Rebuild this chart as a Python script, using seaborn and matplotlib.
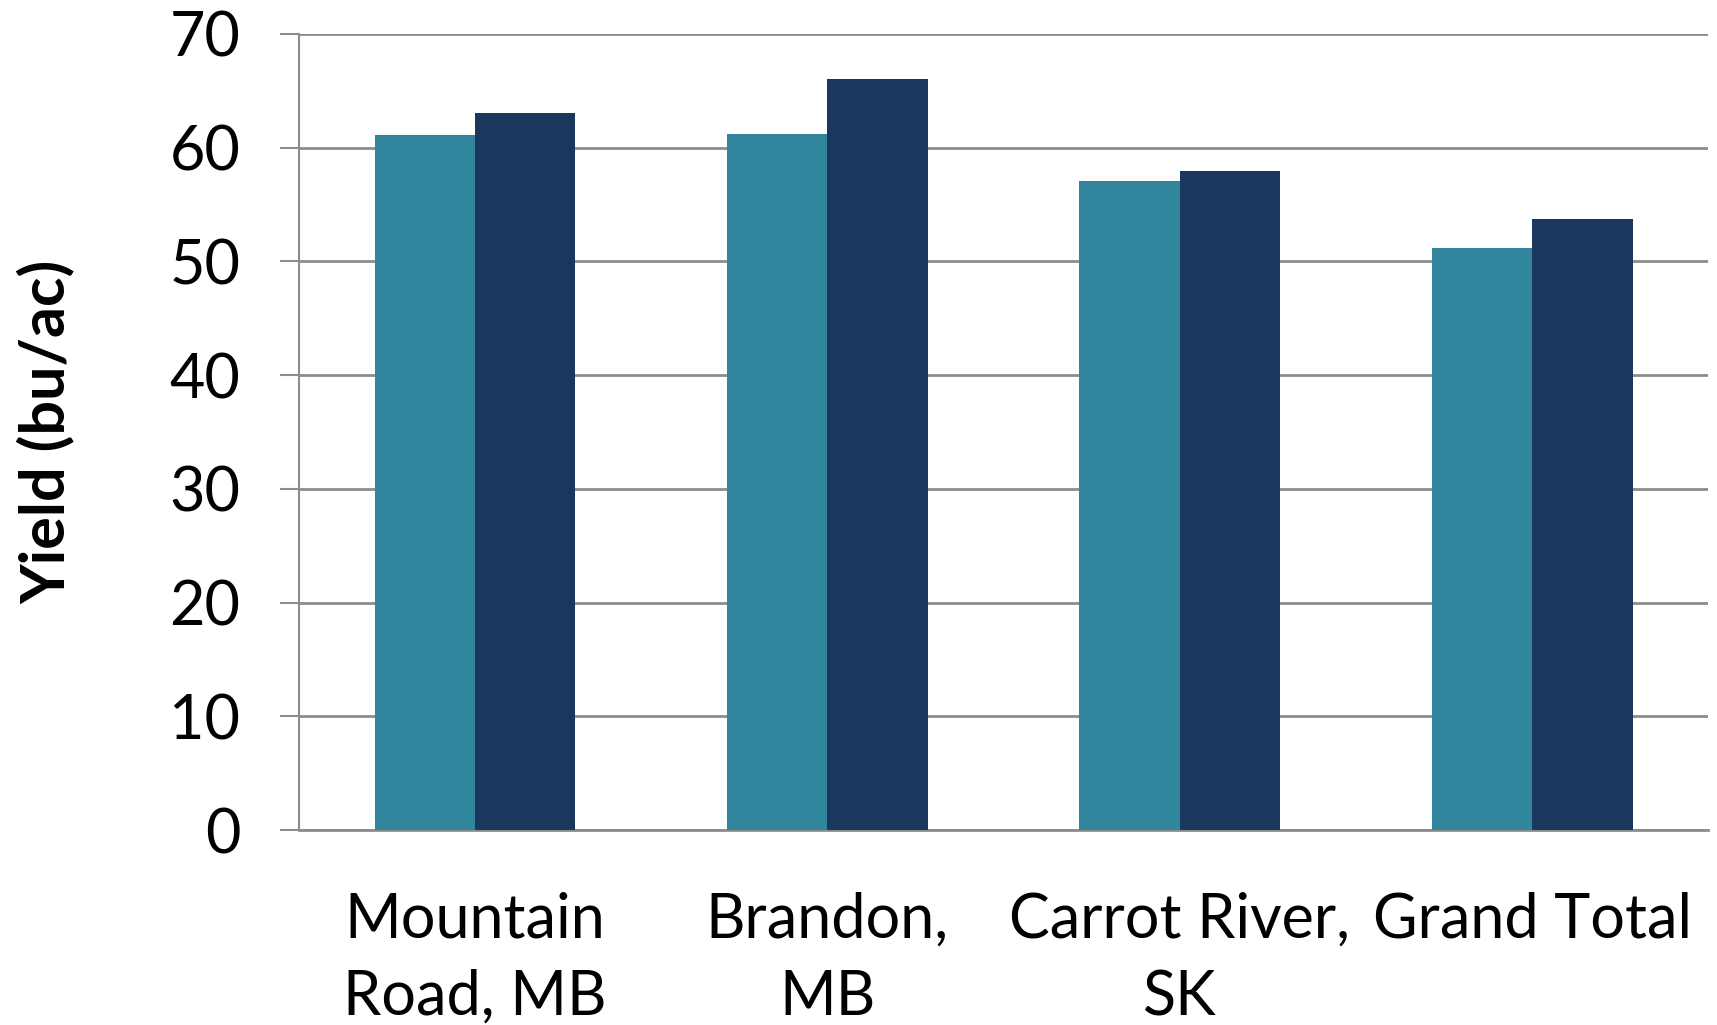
import matplotlib
matplotlib.use("Agg")
import matplotlib.pyplot as plt
import seaborn as sns
import pandas as pd

# values
sites = ["Mountain\nRoad, MB", "Brandon,\nMB", "Carrot River,\nSK", "Grand Total"]
series = ["Series 1", "Series 2"]
yield_s1 = [61.1, 61.2, 57.1, 51.2]
yield_s2 = [63.0, 66.0, 57.9, 53.7]
yticks = [0, 10, 20, 30, 40, 50, 60, 70]

df = pd.DataFrame({
    "site": sites * 2,
    "series": [series[0]] * len(sites) + [series[1]] * len(sites),
    "yield": yield_s1 + yield_s2,
})

sns.set_style("white")
plt.rcParams["font.family"] = ["Lato", "DejaVu Sans"]
plt.rcParams["text.color"] = "black"
plt.rcParams["axes.labelcolor"] = "black"

grid_col = "#8c8c8c"
fig = plt.figure(figsize=(17.17, 10.25), dpi=100)
ax = fig.add_axes([0.174, 0.190, 0.821, 0.777])

sns.barplot(data=df, x="site", y="yield", hue="series",
            palette=["#31859c", "#1a375d"], width=0.57, gap=0,
            saturation=1, legend=False, ax=ax, zorder=3, linewidth=0)

ax.set_ylim(0, 70)
ax.set_xlim(-0.5, len(sites) - 0.5)
ax.set_yticks(yticks)
ax.yaxis.grid(True, color=grid_col, linewidth=2)
ax.set_axisbelow(True)

for s in ["top", "right"]:
    ax.spines[s].set_visible(False)
ax.spines["left"].set_color(grid_col)
ax.spines["left"].set_linewidth(1.5)
ax.spines["bottom"].set_color(grid_col)
ax.spines["bottom"].set_linewidth(2)

ax.tick_params(axis="y", length=14, width=1.5, color=grid_col, pad=28,
               labelsize=44, labelcolor="black", left=True)
ax.tick_params(axis="x", length=0, pad=44, labelsize=44, labelcolor="black")
for lab in ax.get_xticklabels():
    lab.set_linespacing(1.45)

ax.set_xlabel("")
ax.set_ylabel("Yield (bu/ac)", fontsize=44, fontweight="bold", labelpad=68)

fig.savefig("out.png", dpi=100)
